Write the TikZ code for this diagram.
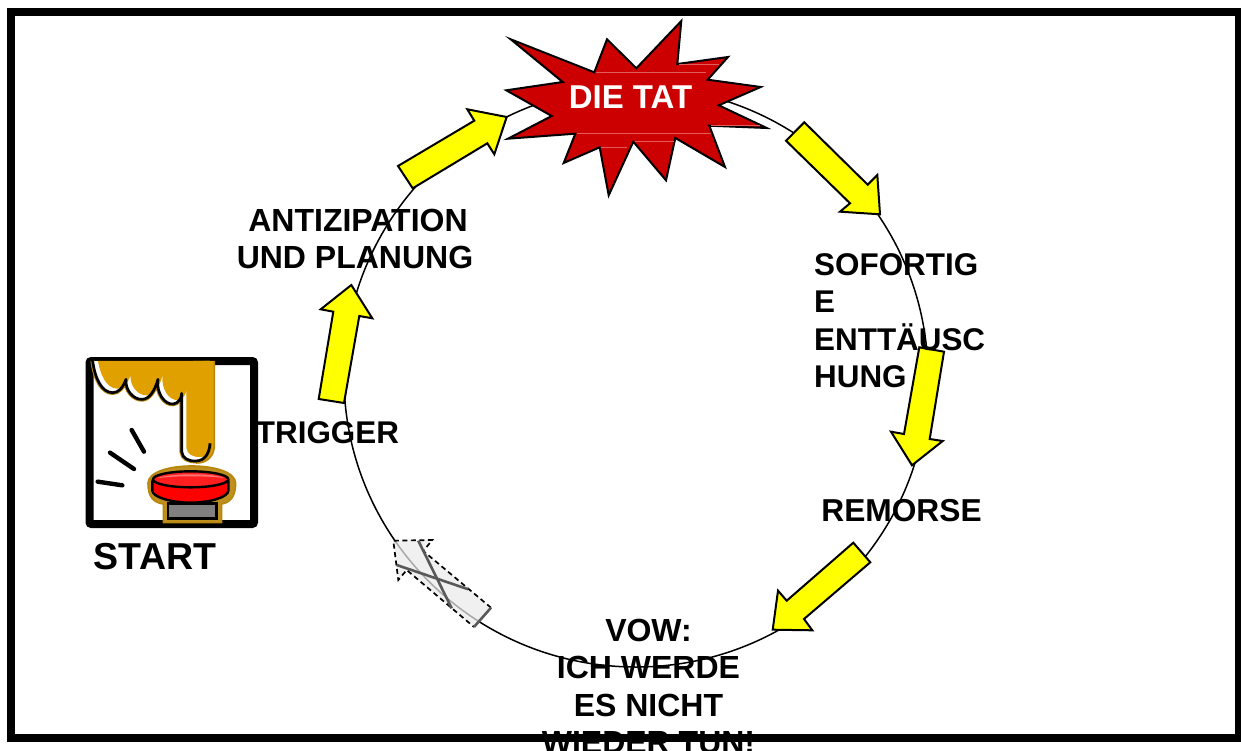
\documentclass[tikz,border=0pt]{standalone}
\usepackage{fontspec}
\setmainfont{Liberation Sans}
\definecolor{starred}{HTML}{CC0000}
\definecolor{starline}{HTML}{E25A5A}
\definecolor{gold}{HTML}{E0A000}
\definecolor{goldedge}{HTML}{B8860B}
\definecolor{arrowyellow}{HTML}{FFFF00}
\newcommand{\knucklepath}{(68,63) .. controls (75,115) and (95,158) .. (128,158) .. controls (145,158) and (158,145) .. (168,118) .. controls (165,150) and (190,180) .. (218,178) .. controls (240,176) and (255,150) .. (264,118) .. controls (258,160) and (285,195) .. (310,192) .. controls (325,190) and (335,175) .. (335,160) -- (335,335) .. controls (337,355) and (355,364) .. (378,363) .. controls (405,362) and (418,340) .. (420,310)}
\newcommand{\fingerfill}{\knucklepath -- (420,63) -- cycle}
\tikzset{
  framebox/.style={draw=black,line width=8pt},
  arrowshape/.style={draw=black,line width=2pt,fill=arrowyellow,line join=miter},
  labeltext/.style={font=\fontsize{31.4}{37.5}\selectfont\bfseries,text=black,inner sep=0pt,align=center},
  crossline/.style={draw=black!65,line width=2.6pt},
  tick/.style={draw=black,line width=4.4pt,line cap=round}
}
\begin{document}
\begin{tikzpicture}[x=1pt,y=-1pt]
\useasboundingbox (0,0) rectangle (1241,751);
\fill[white] (0,0) rectangle (1241,751);
% cycle ring
\draw[black,line width=1.5pt] (636,377) ellipse [x radius=292,y radius=290];
% yellow arrows
\draw[arrowshape] (804.3,122.3) -- (867.7,184.7) -- (877.3,175) -- (880,214.3) -- (840,211.7) -- (850,203.3) -- (786,140.7) -- cycle;
\draw[arrowshape] (919.3,347.3) -- (944,351.7) -- (929.7,439) -- (942.7,441) -- (912,465.3) -- (891,431.7) -- (904,434) -- cycle;
\draw[arrowshape] (853.3,542.7) -- (870.3,562.3) -- (804,619) -- (812.3,630.3) -- (772.7,629.7) -- (778,590.7) -- (786.7,600.7) -- cycle;
\draw[arrowshape] (344,403) -- (318.7,399) -- (333.3,311.7) -- (320.7,309.3) -- (351.3,285) -- (372.3,318.3) -- (359.3,316) -- cycle;
\draw[arrowshape] (412.7,188.3) -- (398,166) -- (474.3,120.7) -- (467.3,109.3) -- (506.7,117) -- (494.3,154.3) -- (487.3,143.3) -- cycle;
% crossed-out arrow
\fill[black!8,opacity=.72] (491,607.7) -- (474,627) -- (406.7,570) -- (398.3,580) -- (393.3,540.7) -- (432.3,540) -- (423.3,551) -- cycle;
\draw[black,line width=1.7pt,dash pattern=on 5pt off 3.5pt] (491,607.7) -- (423.3,551) -- (432.3,540) -- (393.3,540.7) -- (398.3,580) -- (406.7,570) -- (474,627);
\draw[crossline] (491,607.7) -- (474,627);
\draw[crossline] (418.3,540.7) -- (451.7,608.3);
\draw[crossline] (396.7,565) -- (468.3,589.3);
% burst
\draw[black,line width=2pt,fill=starred,line join=miter]
 (510.7,39.3) -- (594.3,72.3) -- (607,39.3) -- (636.3,68.3) -- (681.3,21) -- (677.3,64) -- (728,57) -- (707.7,79.7) -- (760.7,87) -- (718.7,105.3) -- (766.7,128) -- (709.3,125.7) -- (725,167) -- (675.3,138) -- (666,180.3) -- (633.3,141.7) -- (608.7,195.3) -- (599.7,147.3) -- (563.7,163) -- (575.3,133.7) -- (508,138.7) -- (551.7,116) -- (506.3,90.3) -- (562.7,82) -- cycle;
\draw[starline,line width=.6pt] (596,72.3) -- (706,72.3) (679,64) -- (719,64) (577,133.5) -- (711,133.5) (635,141.5) -- (674,141.5) (601,147.3) -- (627,147.3) (711,125.7) -- (760,125.7);
% icon frame
\draw[black,line width=8pt,rounded corners=2pt,fill=white] (89.5,361) rectangle (254,524);
% push-button icon
\begin{scope}[shift={(70,340)},x=.3333pt,y=-.3333pt]
  % finger: right rim
  \fill[gold] (400,63) -- (433,63) -- (433,320) .. controls (431,350) and (410,370) .. (378,369) -- cycle;
  \draw[goldedge,line width=1.6pt] (433,63) -- (433,320) .. controls (431,350) and (410,370) .. (378,369);
  % finger: outer rim, fill, highlight, outline
  \draw[goldedge,line width=4.6pt,line join=round,line cap=butt] \knucklepath;
  \begin{scope}
    \clip \fingerfill;
    \fill[white] (57,63) rectangle (435,375);
    \fill[gold,shift={(14,-12)}] \knucklepath -- (440,63) -- (440,40) -- (68,40) -- cycle;
    \fill[gold] (370,40) rectangle (440,300);
  \end{scope}
  \draw[black,line width=2.7pt,line join=round] \knucklepath;
  % ticks
  \draw[tick] (185,270) -- (222,335);
  \draw[tick] (120,338) -- (192,387);
  \draw[tick] (83,425) -- (157,436);
  % button
  \draw[goldedge,line width=1.6pt,fill=goldedge!92!white,line join=round] (280,548) -- (280,492) .. controls (250,488) and (234,470) .. (234,430) .. controls (234,395) and (300,378) .. (365,378) .. controls (430,378) and (497,395) .. (497,430) .. controls (497,470) and (480,488) .. (455,492) -- (455,548) -- cycle;
  \fill[black] (290,486) rectangle (445,540);
  \fill[black!50] (298,495) rectangle (435,530);
  \draw[black,line width=2.4pt,fill=red] (247,425) -- (247,452) .. controls (247,470) and (300,488) .. (362,488) .. controls (425,488) and (475,470) .. (475,452) -- (475,425) -- cycle;
  \draw[black,line width=2.4pt,fill=red!88!white] (362,418) ellipse [x radius=113,y radius=24];
  \fill[red!55!white] (262,415) .. controls (290,400) and (430,398) .. (462,414) .. controls (420,408) and (310,406) .. (262,415) -- cycle;
\end{scope}
% labels
\node[labeltext] (trigger) at (327.5,433) {TRIGGER};
\node[labeltext,font=\fontsize{32}{37.5}\selectfont\bfseries] (plan) at (355,239) {\hspace*{6pt}ANTIZIPATION\\UND PLANUNG};
\node[labeltext,align=left,anchor=north west] (sofort) at (814,253) {SOFORTIG\\E\\ENTTÄUSC\\HUNG};
\node[labeltext,font=\fontsize{31.7}{37.5}\selectfont\bfseries] (remorse) at (901.5,511) {REMORSE};
\node[labeltext,anchor=north,font=\fontsize{32}{37.5}\selectfont\bfseries] (vow) at (648.5,618.5) {VOW:\\ICH WERDE\\ES NICHT\\WIEDER TUN!};
\node[labeltext,font=\fontsize{37.5}{40}\selectfont\bfseries] (start) at (155,557) {START};
\node[labeltext,text=white,font=\fontsize{33}{36}\selectfont\bfseries] (tat) at (630.5,97) {DIE TAT};
% outer frame
\draw[framebox] (11,12) -- (1239,12) -- (1239,738) -- (11,738) -- cycle;
\end{tikzpicture}
\end{document}
